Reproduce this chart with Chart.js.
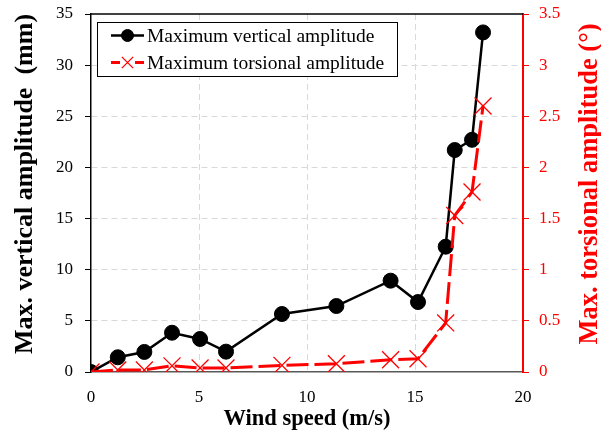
<!DOCTYPE html>
<html>
<head>
<meta charset="utf-8">
<script src="https://cdn.jsdelivr.net/npm/chart.js@4.4.1/dist/chart.umd.min.js"></script>
<style>
  html, body { margin: 0; padding: 0; background: #fff; }
  #wrap { width: 601px; height: 441px; }
</style>
</head>
<body>
<div id="wrap"><canvas id="amp" width="601" height="441"></canvas></div>
<script>
// wind speed (m/s) and measured amplitudes
const windSpeed = [0, 1.24, 2.47, 3.75, 5.05, 6.25, 8.84, 11.36, 13.87, 15.14, 16.42, 16.84, 17.64, 18.15];
const verticalAmp = [0, 1.44, 1.96, 3.84, 3.23, 1.99, 5.67, 6.45, 8.93, 6.84, 12.25, 21.7, 22.7, 33.2];
const torsionalAmp = [0, 0.02, 0.02, 0.06, 0.04, 0.04, 0.065, 0.08, 0.12, 0.13, 0.48, 1.53, 1.76, 2.6];

const seriesNames = ["Maximum vertical amplitude", "Maximum torsional amplitude"];
const xTitle = "Wind speed (m/s)";
const yTitle = "Max. vertical amplitude  (mm)";
const y1Title = "Max. torsional amplitude (°)";

const SERIF = "'Liberation Serif', 'Times New Roman', serif";
const RED = "#ff0000";

const toPoints = (ys) => windSpeed.map((x, i) => ({ x: x, y: ys[i] }));

// vertical axis titles, both reading bottom-to-top
function sideTitle(ctx, text, x, y, size, color) {
  ctx.save();
  ctx.translate(x, y);
  ctx.rotate(-Math.PI / 2);
  ctx.fillStyle = color;
  ctx.font = "bold " + size + "px " + SERIF;
  ctx.textAlign = "center";
  ctx.textBaseline = "middle";
  ctx.fillText(text, 0, 0);
  ctx.restore();
}

// frame line on top, axis titles, boxed legend
const extras = {
  id: "extras",
  afterDraw(chart) {
    const { ctx, chartArea: a } = chart;
    ctx.save();
    ctx.strokeStyle = "#000";
    ctx.lineWidth = 1.5;
    ctx.beginPath();
    ctx.moveTo(a.left, a.top);
    ctx.lineTo(a.right, a.top);
    ctx.stroke();
    ctx.restore();

    sideTitle(ctx, yTitle, 25, 184, 26, "#000");
    sideTitle(ctx, y1Title, 590, 184, 26.5, RED);

    // legend (markers a bit smaller than on the plot)
    ctx.save();
    const bx = 97.5, by = 22.5, bw = 300, bh = 54;
    ctx.fillStyle = "#fff";
    ctx.fillRect(bx, by, bw, bh);
    ctx.strokeStyle = "#000";
    ctx.lineWidth = 1;
    ctx.strokeRect(bx, by, bw, bh);

    const rows = [35.5, 62.5];
    const legendRadius = [6, 8];
    chart.data.datasets.forEach((ds, i) => {
      const y = rows[i];
      ctx.strokeStyle = ds.borderColor;
      ctx.lineWidth = ds.borderWidth;
      ctx.beginPath();
      if (ds.borderDash) {
        ctx.moveTo(111, y); ctx.lineTo(120, y);
        ctx.moveTo(135, y); ctx.lineTo(144, y);
      } else {
        ctx.moveTo(111, y); ctx.lineTo(144, y);
      }
      ctx.stroke();
      ctx.fillStyle = ds.pointBackgroundColor;
      ctx.strokeStyle = ds.pointBorderColor;
      ctx.lineWidth = ds.pointBorderWidth;
      Chart.helpers.drawPoint(ctx, {
        pointStyle: ds.pointStyle,
        radius: legendRadius[i],
        borderWidth: ds.pointBorderWidth,
        rotation: 0
      }, 127.5, y);

      ctx.fillStyle = "#000";
      ctx.font = "19.5px " + SERIF;
      ctx.textAlign = "left";
      ctx.textBaseline = "middle";
      ctx.fillText(seriesNames[i], 147, y + 1);
    });
    ctx.restore();
  }
};

// keep the plot box fixed: no extra room for half tick labels
const noPad = (w) => (s) => {
  s.width = w;
  s.paddingTop = 0;
  s.paddingBottom = 0;
};

new Chart(document.getElementById("amp"), {
  type: "scatter",
  data: {
    datasets: [
      {
        label: seriesNames[0],
        data: toPoints(verticalAmp),
        yAxisID: "y",
        showLine: true,
        borderColor: "#000",
        borderWidth: 2.5,
        pointStyle: "circle",
        pointRadius: 7.5,
        pointBackgroundColor: "#000",
        pointBorderColor: "#000",
        pointBorderWidth: 1,
        order: 2
      },
      {
        label: seriesNames[1],
        data: toPoints(torsionalAmp),
        yAxisID: "y1",
        showLine: true,
        borderColor: RED,
        borderWidth: 3,
        borderDash: [22, 6],
        pointStyle: "crossRot",
        pointRadius: 12,
        pointBackgroundColor: RED,
        pointBorderColor: RED,
        pointBorderWidth: 1.3,
        order: 1
      }
    ]
  },
  options: {
    responsive: false,
    animation: false,
    layout: { padding: { top: 14, left: 0, right: 0, bottom: 0 } },
    plugins: { legend: { display: false }, tooltip: { enabled: false } },
    scales: {
      x: {
        type: "linear",
        min: 0, max: 20,
        afterFit: (s) => { s.height = 69; },
        ticks: { stepSize: 5, color: "#000", padding: 15, font: { family: SERIF, size: 17 } },
        grid: {
          color: (c) => (c.tick.value > 0 && c.tick.value < 20 ? "#d9d9d9" : "rgba(0,0,0,0)"),
          drawTicks: false
        },
        border: { color: "#595959", width: 1.5, dash: [6, 4] },
        title: { display: true, text: xTitle, color: "#000", padding: { top: 0, bottom: 8 }, font: { family: SERIF, size: 22.5, weight: "bold" } }
      },
      y: {
        position: "left",
        min: 0, max: 35,
        afterFit: noPad(91),
        ticks: { stepSize: 5, color: "#000", padding: 12, font: { family: SERIF, size: 17 } },
        grid: {
          color: (c) => (c.tick.value > 0 && c.tick.value < 35 ? "#d9d9d9" : "rgba(0,0,0,0)"),
          tickColor: "#000",
          tickBorderDash: [],
          tickLength: 6
        },
        border: { color: "#000", width: 1.5, dash: [6, 4] }
      },
      y1: {
        position: "right",
        min: 0, max: 3.5,
        afterFit: noPad(78),
        ticks: {
          stepSize: 0.5, color: RED, padding: 10, font: { family: SERIF, size: 17 },
          callback: (v) => String(+v.toFixed(1))
        },
        grid: {
          drawOnChartArea: false,
          color: RED,
          tickColor: RED,
          tickLength: 6
        },
        border: { color: RED, width: 2 }
      }
    }
  },
  plugins: [extras]
});
</script>
</body>
</html>
